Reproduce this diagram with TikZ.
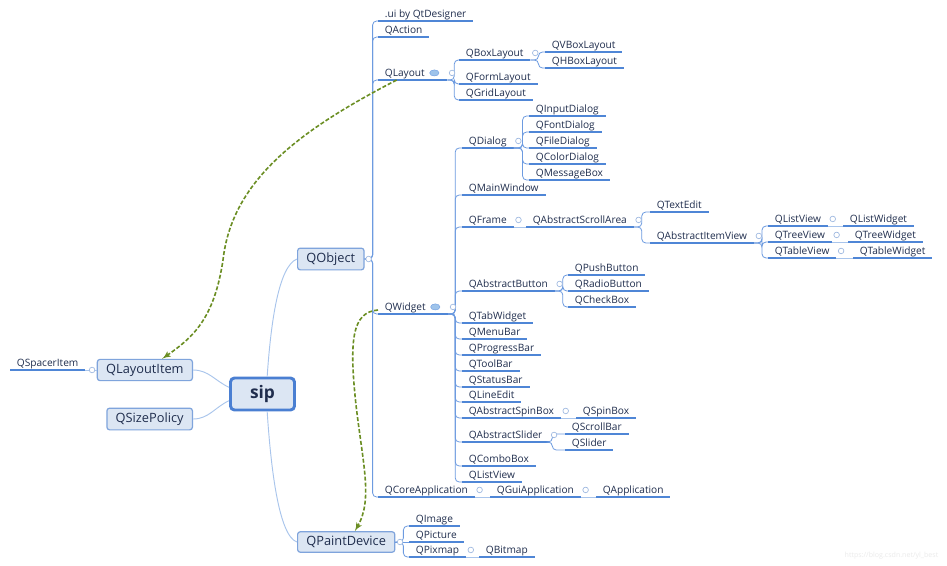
\documentclass[tikz,border=0pt]{standalone}
\usepackage{fontspec}
\setmainfont{Open Sans}
\usetikzlibrary{arrows}
\usetikzlibrary{shapes.geometric}

\definecolor{txt}{HTML}{1F2D4D}
\definecolor{ulc}{HTML}{4F86D6}
\definecolor{brc}{HTML}{6D9BE0}
\definecolor{lnk}{HTML}{A9C5EC}
\definecolor{knc}{HTML}{9DB8E0}
\definecolor{boxf}{HTML}{DCE6F3}
\definecolor{boxd}{HTML}{7FA4DC}
\definecolor{rootd}{HTML}{4A7FD2}
\definecolor{olive}{HTML}{6B8E23}
\definecolor{bubf}{HTML}{9EC3EA}

\begin{document}
\begin{tikzpicture}[x=0.75pt,y=-0.75pt,
  leaf/.style={anchor=south west, inner xsep=5pt, inner ysep=1pt,
    text height=0.75em, text depth=1.2pt, text=txt,
    font=\fontsize{7.6}{9}\selectfont},
  uline/.style={ulc, line width=1.1pt},
  branch/.style={brc, line width=0.6pt, rounded corners=3pt},
  link/.style={lnk, line width=0.7pt},
  knob/.style={circle, draw=knc, fill=white, line width=0.5pt,
    inner sep=0pt, minimum size=4.2pt},
  bubble/.style={ellipse, fill=bubf, draw=brc, line width=0.3pt,
    inner sep=0pt, minimum width=7pt, minimum height=4.6pt},
  box/.style={draw=boxd, fill=boxf, line width=0.9pt, rounded corners=2pt,
    text=txt, font=\fontsize{9.6}{11}\selectfont,
    inner xsep=6.6pt, minimum height=15pt},
  rootbox/.style={draw=rootd, fill=boxf, line width=2.2pt, rounded corners=3pt,
    text=txt, font=\bfseries\fontsize{13}{15}\selectfont,
    minimum width=48pt, minimum height=24pt},
  refer/.style={olive, line width=1.2pt, dash pattern=on 3pt off 1.5pt,
    ->, >=latex'}]
\fill[white] (0,0) rectangle (947,565);
\useasboundingbox (0,0) rectangle (947,565);

% main boxes
\node[rootbox] (sip) at (262.5,394) {sip};
\node[box, anchor=west] (QObject) at (297,259) {QObject};
\node[box, anchor=west] (QPaintDevice) at (297,542) {QPaintDevice};
\node[box, anchor=east] (QLayoutItem) at (193,370) {QLayoutItem};
\node[box, anchor=east] (QSizePolicy) at (193,419) {QSizePolicy};

\draw[link] ([xshift=3.5pt]sip.north) .. controls (271,320) and (279,266) .. (QObject.west);
\draw[link] ([xshift=3.5pt]sip.south) .. controls (271,470) and (279,536) .. (QPaintDevice.west);
\draw[link] (QLayoutItem.east) to[out=0,in=155] ([yshift=5pt]sip.west);
\draw[link] (QSizePolicy.east) to[out=0,in=-155] ([yshift=-5pt]sip.west);

% leaves
\foreach \n/\t/\x/\y in {
  spacer/QSpacerItem/10/370,
  ui/.ui by QtDesigner/378/21, action/QAction/378/37,
  layout/QLayout\kern11.7pt/378/80, widget/QWidget\kern11.7pt/378/314,
  coreapp/QCoreApplication/378/497,
  boxlayout/QBoxLayout/459/60, formlayout/QFormLayout/459/84,
  gridlayout/QGridLayout/459/100,
  vbox/QVBoxLayout/545/52, hbox/QHBoxLayout/545/68,
  dialog/QDialog/462/148, mainwin/QMainWindow/462/195, frame/QFrame/462/227,
  absbutton/QAbstractButton/462/291, tabwidget/QTabWidget/462/323,
  menubar/QMenuBar/462/339, progress/QProgressBar/462/355,
  toolbar/QToolBar/462/371, statusbar/QStatusBar/462/387,
  lineedit/QLineEdit/462/402, absspin/QAbstractSpinBox/462/418,
  absslider/QAbstractSlider/462/442, combobox/QComboBox/462/466,
  listview/QListView/462/482,
  inputdlg/QInputDialog/529/116, fontdlg/QFontDialog/529/132,
  filedlg/QFileDialog/529/148, colordlg/QColorDialog/529/164,
  msgbox/QMessageBox/529/180,
  scrollarea/QAbstractScrollArea/526/227,
  textedit/QTextEdit/650/212, itemview/QAbstractItemView/650/243,
  listv/QListView/768/226, treev/QTreeView/768/242, tablev/QTableView/768/258,
  listw/QListWidget/843/226, treew/QTreeWidget/848/242,
  tablew/QTableWidget/853/258,
  push/QPushButton/568/275, radio/QRadioButton/568/291,
  check/QCheckBox/568/307,
  spinbox/QSpinBox/576/418,
  scrollbar/QScrollBar/565/434, slider/QSlider/565/450,
  guiapp/QGuiApplication/490/497, app/QApplication/596/497,
  image/QImage/409/526, picture/QPicture/409/542, pixmap/QPixmap/409/557,
  bitmap/QBitmap/479/557}
{
  \node[leaf] (\n) at (\x,\y) {\t};
  \draw[uline] (\n.south west) -- (\n.south east);
}

% tree branches
\foreach \p/\d/\cs in {
  QObject.east/8/{ui,action,layout,widget,coreapp},
  layout.south east/7/{boxlayout,formlayout,gridlayout},
  boxlayout.south east/8/{vbox,hbox},
  widget.south east/7/{dialog,mainwin,frame,absbutton,tabwidget,menubar,progress,toolbar,statusbar,lineedit,absspin,absslider,combobox,listview},
  dialog.south east/9/{inputdlg,fontdlg,filedlg,colordlg,msgbox},
  scrollarea.south east/8/{textedit,itemview},
  itemview.south east/8/{listv,treev,tablev},
  absbutton.south east/8/{push,radio,check},
  absslider.south east/3/{scrollbar,slider},
  QPaintDevice.east/8/{image,pixmap}}
{
  \foreach \c in \cs
    \draw[branch] (\p) -- ++(\d,0) |- (\c.south west);
}
\draw[branch] (QPaintDevice.east) -- (picture.south west);

% same level links
\foreach \a/\b in {frame/scrollarea, listv/listw, treev/treew, tablev/tablew,
  absspin/spinbox, coreapp/guiapp, guiapp/app, pixmap/bitmap}
  \draw[link] (\a.south east) -- (\b.south west);
\draw[link] (QLayoutItem.west) -- (spacer.south east);

% knobs
\foreach \p in {layout,boxlayout,widget,dialog,frame,scrollarea,itemview,
  listv,treev,tablev,absbutton,absspin,absslider,coreapp,guiapp,pixmap}
  \node[knob] (k\p) at ([xshift=3.6pt,yshift=5.3pt]\p.south east) {};
\node[knob] (kQObject) at ([xshift=3pt]QObject.east) {};
\node[knob] (kQPaintDevice) at ([xshift=3.5pt]QPaintDevice.east) {};
\node[knob] (kQLayoutItem) at ([xshift=-3.5pt]QLayoutItem.west) {};

% note icons
\node[bubble] (blayout) at ([xshift=-9.7pt,yshift=5.3pt]layout.south east) {};
\node[bubble] (bwidget) at ([xshift=-9.7pt,yshift=5.3pt]widget.south east) {};

% references
\draw[refer] ([xshift=14pt]layout.south west)
  .. controls (300,130) and (232,180) .. (223,260)
  .. controls (214,320) and (192,338) .. ([xshift=13pt]QLayoutItem.north);
\draw[refer] ([yshift=3pt]widget.south west)
  .. controls (352,312) and (349,340) .. (356,405)
  .. controls (363,465) and (373,500) .. ([xshift=6.5pt]QPaintDevice.north);

\node[anchor=east, text=black!8, font=\fontsize{5.3}{6}\selectfont] (mark)
  at (943,556) {https://blog.csdn.net/yl\_best};
\end{tikzpicture}
\end{document}
